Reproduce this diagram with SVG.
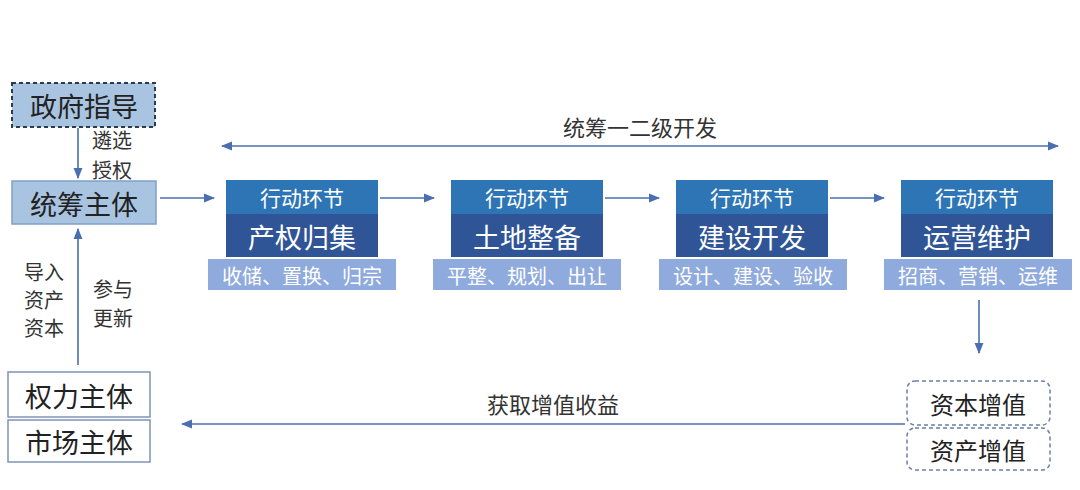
<svg xmlns="http://www.w3.org/2000/svg" width="1080" height="490" viewBox="0 0 1080 490">
<style>
text{font-family:"Noto Sans CJK SC","Noto Sans",sans-serif;text-anchor:middle;dominant-baseline:central}
.lb{font-size:20px;fill:#333}
.big{font-size:27px;fill:#222}
.hd{fill:#2e75b6}.hdt{font-size:21px;fill:#fff}
.md{fill:#2f5597}.mdt{font-size:27px;fill:#fff}
.bt{fill:#8faadc}.btt{font-size:20px;fill:#fff}
.ln{stroke:#4a6fb0;stroke-width:1.6;fill:none}
</style>
<defs><marker id="a" viewBox="0 0 10 10" refX="9" refY="5" markerWidth="7" markerHeight="7" orient="auto-start-reverse"><path d="M0,1 L10,5 L0,9 z" fill="#4a6fb0"/></marker></defs>
<rect width="1080" height="490" fill="#fff"/>
<g id="gov"><rect x="12" y="83" width="143" height="44" fill="#a9c4e0" stroke="#2a3a50" stroke-width="2" stroke-dasharray="4,3"/><text class="big" x="84" y="105">政府指导</text></g>
<g id="main"><rect x="12" y="181" width="144" height="43" fill="#a9c4e0" stroke="#7fa0c8" stroke-width="1.5"/><text class="big" x="84" y="203">统筹主体</text></g>
<g id="power"><rect x="8" y="372" width="142" height="45" fill="#fff" stroke="#7f94b8" stroke-width="1.5"/><text class="big" x="79" y="395">权力主体</text></g>
<g id="market"><rect x="8" y="420" width="142" height="42" fill="#fff" stroke="#7f94b8" stroke-width="1.5"/><text class="big" x="79" y="441">市场主体</text></g>
<g id="s1"><rect class="hd" x="226" y="180" width="152" height="34"/><text class="hdt" x="302" y="197">行动环节</text><rect class="md" x="226" y="214" width="152" height="43"/><text class="mdt" x="302" y="236">产权归集</text><rect class="bt" x="208" y="259" width="188" height="31"/><text class="btt" x="302" y="275">收储、置换、归宗</text></g>
<g id="s2"><rect class="hd" x="451" y="180" width="152" height="34"/><text class="hdt" x="527" y="197">行动环节</text><rect class="md" x="451" y="214" width="152" height="43"/><text class="mdt" x="527" y="236">土地整备</text><rect class="bt" x="433" y="259" width="188" height="31"/><text class="btt" x="527" y="275">平整、规划、出让</text></g>
<g id="s3"><rect class="hd" x="676" y="180" width="152" height="34"/><text class="hdt" x="752" y="197">行动环节</text><rect class="md" x="676" y="214" width="152" height="43"/><text class="mdt" x="752" y="236">建设开发</text><rect class="bt" x="659" y="259" width="188" height="31"/><text class="btt" x="753" y="275">设计、建设、验收</text></g>
<g id="s4"><rect class="hd" x="901" y="180" width="152" height="34"/><text class="hdt" x="977" y="197">行动环节</text><rect class="md" x="901" y="214" width="152" height="43"/><text class="mdt" x="977" y="236">运营维护</text><rect class="bt" x="884" y="259" width="188" height="31"/><text class="btt" x="978" y="275">招商、营销、运维</text></g>
<g id="cap"><rect x="907" y="381" width="143" height="44" rx="8" fill="#fff" stroke="#6a80a8" stroke-width="1.5" stroke-dasharray="4,3"/><text class="big" x="978" y="403" style="font-size:24px">资本增值</text></g>
<g id="asset"><rect x="907" y="428" width="143" height="42" rx="8" fill="#fff" stroke="#6a80a8" stroke-width="1.5" stroke-dasharray="4,3"/><text class="big" x="978" y="449" style="font-size:24px">资产增值</text></g>
<g id="connectors">
<line class="ln" x1="78" y1="128" x2="78" y2="178" marker-end="url(#a)"/>
<line class="ln" x1="78" y1="365" x2="78" y2="229" marker-end="url(#a)"/>
<line class="ln" x1="160" y1="198" x2="214" y2="198" marker-end="url(#a)"/>
<line class="ln" x1="380" y1="198" x2="434" y2="198" marker-end="url(#a)"/>
<line class="ln" x1="605" y1="198" x2="659" y2="198" marker-end="url(#a)"/>
<line class="ln" x1="830" y1="198" x2="884" y2="198" marker-end="url(#a)"/>
<line class="ln" x1="222" y1="146" x2="1058" y2="146" marker-start="url(#a)" marker-end="url(#a)"/>
<line class="ln" x1="979" y1="300" x2="979" y2="353" marker-end="url(#a)"/>
<line class="ln" x1="905" y1="424" x2="182" y2="424" marker-end="url(#a)"/>
<text class="lb" x="112" y="139">遴选</text><text class="lb" x="112" y="169">授权</text>
<text class="lb" x="44" y="271">导入</text><text class="lb" x="44" y="299">资产</text><text class="lb" x="44" y="327">资本</text>
<text class="lb" x="113" y="288">参与</text><text class="lb" x="113" y="317">更新</text>
<text class="lb" x="640" y="126" style="font-size:22px">统筹一二级开发</text>
<text class="lb" x="553" y="403" style="font-size:22px">获取增值收益</text>
</g>
</svg>
